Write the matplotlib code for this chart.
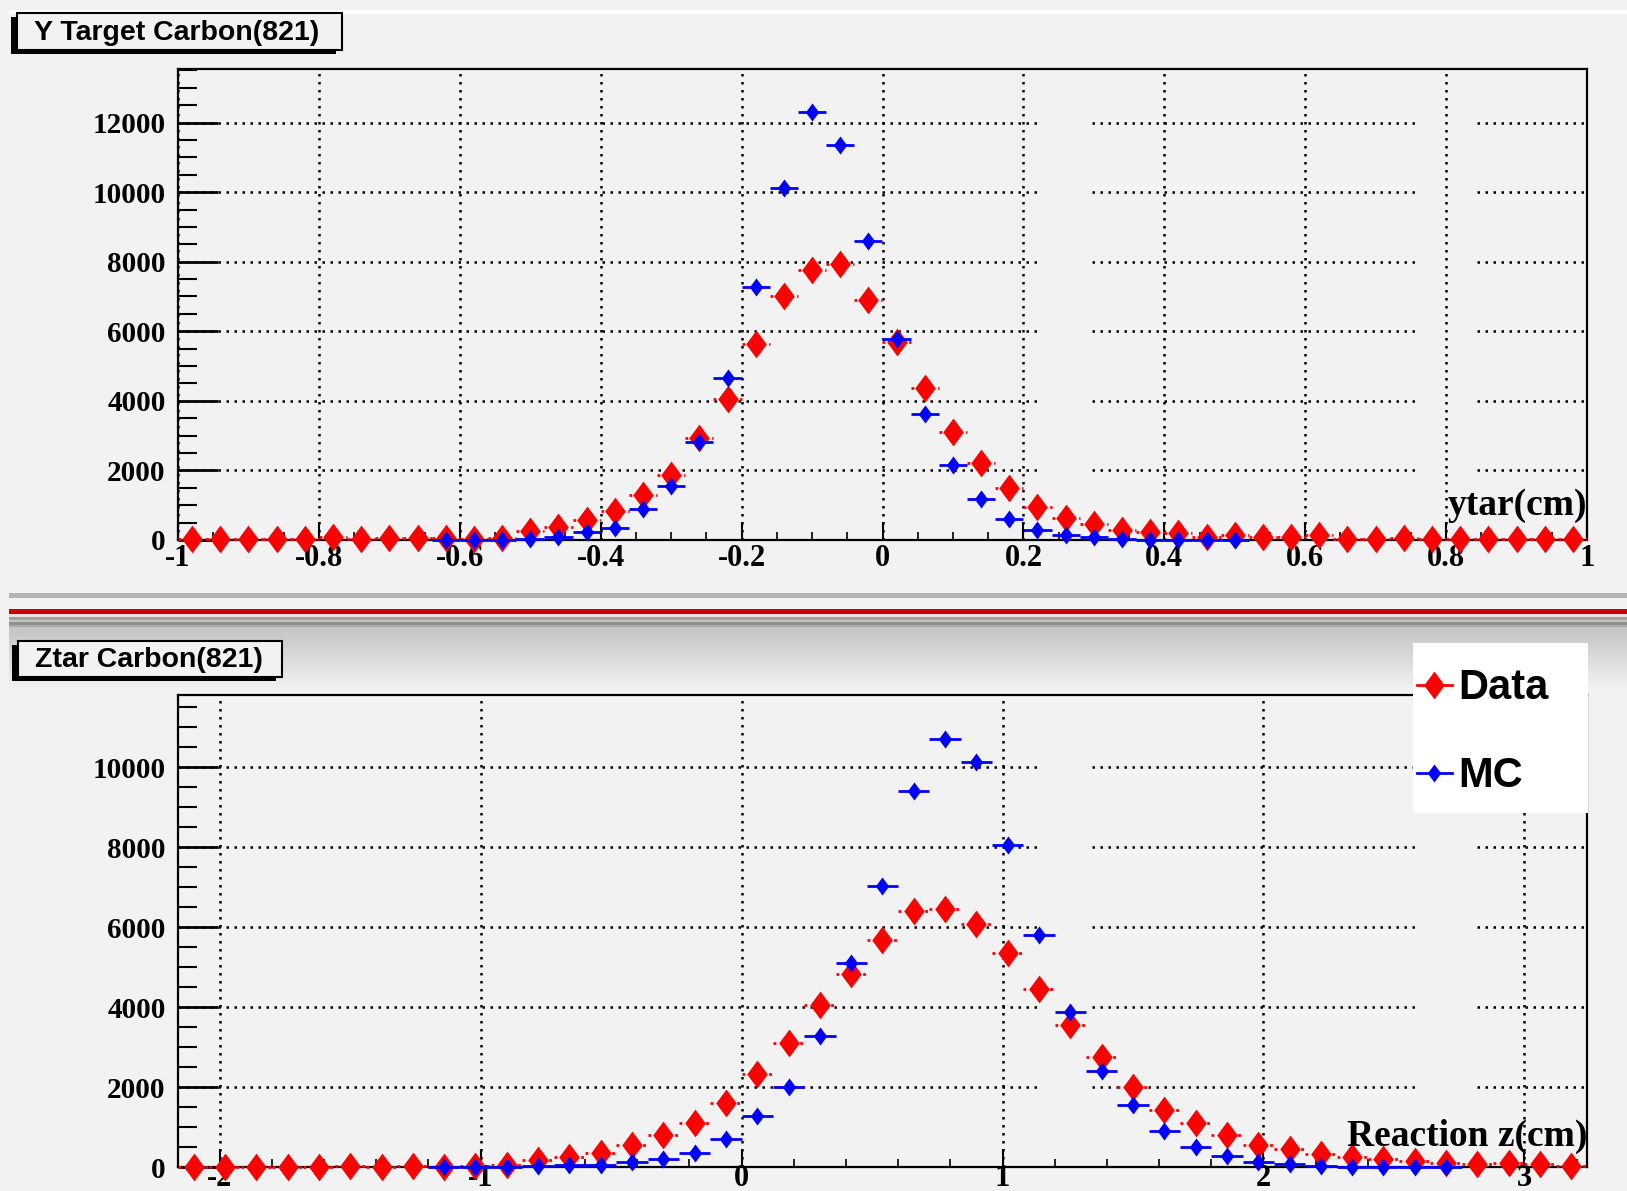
import numpy as np
import matplotlib.pyplot as plt
from matplotlib.patches import Rectangle
from matplotlib.colors import LinearSegmentedColormap
from matplotlib.ticker import MultipleLocator, FuncFormatter

plt.rcParams['font.family'] = ['Liberation Serif', 'DejaVu Serif']
plt.rcParams['font.weight'] = 'bold'
plt.rcParams['axes.unicode_minus'] = False

# --- ytar histogram: 50 bins on [-1, 1] ---
ytar_lo, ytar_hi, ytar_nbins = -1.0, 1.0, 50
ytar_data = [30, 20, 20, 30, 20, 80, 30, 60, 70, 60,
             40, 60, 260, 370, 570, 846, 1286, 1857, 2934, 4055,
             5626, 7022, 7769, 7934, 6890, 5681, 4363, 3099, 2220, 1505,
             956, 626, 462, 297, 242, 209, 77, 130, 77, 77,
             130, 20, 40, 50, 30, 40, 40, 30, 30, 30]
ytar_mc = [None, None, None, None, None, None, None, None, None, 0,
           0, 0, 20, 77, 220, 352, 879, 1560, 2824, 4659,
           7275, 10132, 12297, 11341, 8593, 5791, 3626, 2143, 1176, 604,
           297, 154, 77, 20, 10, 0, 0, 0, None, None,
           None, None, None, None, None, None, None, None, None, None]

# --- reaction z histogram: 45 bins on [-2.16, 3.24] ---
z_lo, z_hi, z_nbins = -2.16, 3.24, 45
z_data = [10, 10, 0, 0, 10, 20, 10, 20, 10, 20,
          40, 170, 258, 350, 550, 800, 1092, 1592, 2317, 3092,
          4050, 4813, 5675, 6392, 6459, 6077, 5359, 4450, 3550, 2756,
          2010, 1416, 1100, 794, 555, 440, 335, 250, 200, 150,
          105, 75, 100, 75, 30]
z_mc = [None, None, None, None, None, None, None, None, 0, 0,
        0, 20, 40, 50, 120, 190, 360, 690, 1280, 1990,
        3280, 5100, 7034, 9407, 10700, 10124, 8038, 5789, 3876, 2392,
        1560, 909, 507, 268, 124, 77, 30, 0, 0, 0,
        0, None, None, None, None]

panel_titles = ["Y Target Carbon(821)", "Ztar Carbon(821)"]
axis_titles = ["ytar(cm)", "Reaction z(cm)"]
legend_labels = ["Data", "MC"]

W, H = 1627, 1191
BG = '#f2f2f2'
RED = '#ff0000'
BLUE = '#0000ff'
DIAMOND = [(0, 1), (0.74, 0), (0, -1), (-0.74, 0), (0, 1)]
DOT = (0, (1, 2.2))


def draw_hist(ax, lo, hi, nbins, values, color, ms, ls, z):
    edges = np.linspace(lo, hi, nbins + 1)
    centers = 0.5 * (edges[:-1] + edges[1:])
    half = 0.5 * (edges[1] - edges[0])
    x = np.array([c for c, v in zip(centers, values) if v is not None])
    y = np.array([v for v in values if v is not None], dtype=float)
    ax.hlines(y, x - half, x + half, colors=color, linewidth=2.0,
              linestyles=ls, clip_on=False, zorder=z)
    ax.plot(x, y, linestyle='none', marker=DIAMOND, ms=ms, color=color,
            markeredgewidth=0, clip_on=False, zorder=z + 0.5)


def style_axes(ax, xlo, xhi, ytop, xmaj, xmin, ygrid, xpad):
    ax.set_xlim(xlo, xhi)
    ax.set_ylim(0, ytop)
    ax.xaxis.set_major_locator(MultipleLocator(xmaj))
    ax.xaxis.set_minor_locator(MultipleLocator(xmin))
    ax.yaxis.set_major_locator(MultipleLocator(2000))
    ax.yaxis.set_minor_locator(MultipleLocator(500))
    ax.xaxis.set_major_formatter(FuncFormatter(lambda v, p: f"{round(v, 6) + 0.0:g}"))
    ax.yaxis.set_major_formatter(FuncFormatter(lambda v, p: f"{int(round(v))}"))
    ax.tick_params(axis='y', which='major', direction='in', length=29,
                   width=2, right=False, pad=9, labelsize=21)
    ax.tick_params(axis='y', which='minor', direction='in', length=14,
                   width=1.5, right=False)
    ax.tick_params(axis='x', which='major', direction='in', length=13,
                   width=1.5, top=False, pad=xpad, labelsize=22)
    ax.tick_params(axis='x', which='minor', direction='in', length=6,
                   width=1.2, top=False)
    for s in ax.spines.values():
        s.set_linewidth(1.6)
    ax.grid(axis='x', which='major', color='black', linestyle=DOT, linewidth=1.8)
    # horizontal grid (the screenshot has two blank columns in it)
    segs = [(0.0, 0.613), (0.649, 0.880), (0.922, 1.0)]
    for yv in ygrid:
        for a, b in segs:
            ax.plot([a, b], [yv, yv], transform=ax.get_yaxis_transform(),
                    color='black', linestyle=DOT, linewidth=1.8, zorder=1)


fig = plt.figure(figsize=(W / 100, H / 100), dpi=100, facecolor=BG)

# background decoration (pixel coordinates)
under = fig.add_axes([0, 0, 1, 1], zorder=-1)
under.axis('off')
under.add_patch(Rectangle((9, 10), W, 3.5, color='white', lw=0))
grad = np.linspace(0, 1, 64)[:, None]
under.imshow(grad, extent=(9, W, 690, 627), aspect='auto',
             cmap=LinearSegmentedColormap.from_list('g', ['#c4c4c4', BG]))
for y0, h, c in [(593, 5, '#b4b4b4'), (609, 5, '#cc0000'), (614, 3, '#efe0e0'),
                 (617, 2.7, '#a0a0a0'), (619.7, 2, '#c4c4c4'),
                 (621.7, 3.3, '#8e8e8e'), (625, 2, '#ababab')]:
    under.add_patch(Rectangle((9, y0), W, h, color=c, lw=0))
under.set_xlim(0, W)
under.set_ylim(H, 0)

ax1 = fig.add_axes([178 / W, 1 - 540 / H, (1587 - 178) / W, (540 - 69) / H], facecolor=BG)
ax2 = fig.add_axes([178 / W, 1 - 1167 / H, (1587 - 178) / W, (1167 - 695) / H], facecolor=BG)

draw_hist(ax1, ytar_lo, ytar_hi, ytar_nbins, ytar_data, RED, 20, DOT, 3)
draw_hist(ax1, ytar_lo, ytar_hi, ytar_nbins, ytar_mc, BLUE, 13, 'solid', 4)
style_axes(ax1, ytar_lo, ytar_hi, 13540, 0.2, 0.05, range(2000, 13000, 2000), 3)

draw_hist(ax2, z_lo, z_hi, z_nbins, z_data, RED, 20, DOT, 3)
draw_hist(ax2, z_lo, z_hi, z_nbins, z_mc, BLUE, 13, 'solid', 4)
style_axes(ax2, z_lo, z_hi, 11800, 1.0, 0.2, range(2000, 11000, 2000), -2)

ax1.text(1.0, 0.053, axis_titles[0], transform=ax1.transAxes, ha='right',
         va='baseline', fontsize=27, fontweight='bold', zorder=6)
ax2.text(1.0, 0.045, axis_titles[1], transform=ax2.transAxes, ha='right',
         va='baseline', fontsize=27, fontweight='bold', zorder=6)

# foreground decoration: title boxes and legend (pixel coordinates)
over = fig.add_axes([0, 0, 1, 1], zorder=5)
over.axis('off')
over.patch.set_alpha(0)
for (x0, y0, x1, y1), title in zip([(17, 13, 342, 50), (18, 641, 282, 677)], panel_titles):
    over.add_patch(Rectangle((x0 - 6, y0 + 4), x1 - x0, y1 - y0, facecolor='black', lw=0))
    over.add_patch(Rectangle((x0, y0), x1 - x0, y1 - y0, facecolor=BG,
                             edgecolor='black', lw=1.5))
    over.text(x0 + 17, (y0 + y1) / 2 + 1, title, ha='left', va='center',
              fontsize=20.5, fontweight='bold', family=['Liberation Sans', 'DejaVu Sans'])

over.add_patch(Rectangle((1413, 643), 175, 170, facecolor='white', lw=0))
for yc, lab, col, ms in [(685, legend_labels[0], RED, 20), (773, legend_labels[1], BLUE, 13)]:
    over.plot([1417, 1452], [yc, yc], color=col, lw=2.0)
    over.plot([1434], [yc], linestyle='none', marker=DIAMOND, ms=ms,
              color=col, markeredgewidth=0)
    over.text(1458, yc + 3, lab, ha='left', va='center', fontsize=30,
              fontweight='bold', family=['Liberation Sans', 'DejaVu Sans'])
over.set_xlim(0, W)
over.set_ylim(H, 0)

fig.savefig('out.png', dpi=100, facecolor=BG)
